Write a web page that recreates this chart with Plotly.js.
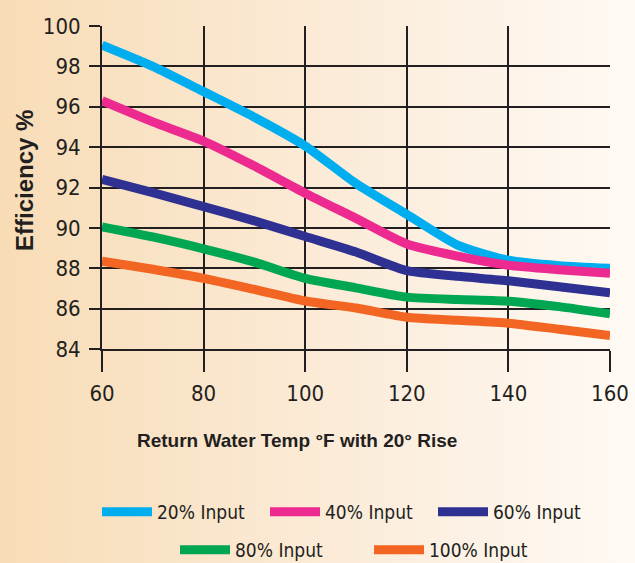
<!DOCTYPE html>
<html>
<head>
<meta charset="utf-8">
<script src="https://cdn.plot.ly/plotly-3.0.1.min.js"></script>
<style>
html,body{margin:0;padding:0;}
body{width:635px;height:563px;background:linear-gradient(to right,#f8dcb6 0%,#f9e2c3 20%,#fbe9d3 45%,#fcf1e4 72%,#fffaf4 100%);}
#chart{width:635px;height:563px;}
</style>
</head>
<body>
<div id="chart"></div>
<script>
// Return water temperature (°F)
const temps = [60, 70, 80, 90, 100, 110, 120, 130, 140, 150, 160];
// Efficiency (%) by firing input
const input20  = [99.05, 98.0, 96.75, 95.48, 94.06, 92.2, 90.67, 89.15, 88.4, 88.13, 88.0];
const input40  = [96.3, 95.25, 94.3, 93.06, 91.72, 90.47, 89.2, 88.6, 88.15, 87.93, 87.75];
const input60  = [92.4, 91.75, 91.05, 90.35, 89.57, 88.8, 87.88, 87.6, 87.38, 87.08, 86.79];
const input80  = [90.05, 89.55, 88.96, 88.3, 87.5, 87.03, 86.57, 86.45, 86.37, 86.1, 85.74];
const input100 = [88.35, 87.95, 87.5, 86.95, 86.38, 86.03, 85.57, 85.42, 85.28, 84.98, 84.67];

const seriesNames  = ['20% Input', '40% Input', '60% Input', '80% Input', '100% Input'];
const seriesValues = [input20, input40, input60, input80, input100];
const seriesColors = ['#00aeef', '#ec2a8f', '#2e3192', '#00a651', '#f26522'];
const seriesLegend = ['legend', 'legend', 'legend', 'legend2', 'legend2'];

const yTicks = [84, 86, 88, 90, 92, 94, 96, 98, 100];
const xTicks = [60, 80, 100, 120, 140, 160];

const ink = '#231f20';
const narrow = 'Liberation Sans Narrow, DejaVu Sans Condensed, sans-serif';
const bold = 'Liberation Sans, Arial, sans-serif';

const traces = seriesNames.map((n, i) => ({
  x: temps, y: seriesValues[i], name: n, type: 'scatter', mode: 'lines',
  line: {color: seriesColors[i], width: 9, shape: 'spline', smoothing: 0.6},
  legend: seriesLegend[i], hoverinfo: 'skip'
}));

const layout = {
  width: 635, height: 563,
  margin: {l: 102, r: 25, t: 26, b: 214, autoexpand: false},
  paper_bgcolor: 'rgba(0,0,0,0)',
  plot_bgcolor: 'rgba(0,0,0,0)',
  showlegend: true,
  xaxis: {
    range: [60, 160], tickvals: xTicks, ticktext: xTicks.map(String),
    showgrid: true, gridcolor: ink, gridwidth: 2,
    showline: true, linecolor: ink, linewidth: 2,
    ticks: 'outside', ticklen: 21, tickwidth: 2, tickcolor: ink,
    ticklabelstandoff: 3,
    tickfont: {family: narrow, size: 22, color: ink},
    zeroline: false, fixedrange: true, layer: 'below traces'
  },
  yaxis: {
    range: [84, 100], tickvals: yTicks, ticktext: yTicks.map(String),
    showgrid: true, gridcolor: ink, gridwidth: 2,
    showline: true, linecolor: ink, linewidth: 2,
    ticks: 'outside', ticklen: 11, tickwidth: 2, tickcolor: ink,
    ticklabelstandoff: 4,
    tickfont: {family: narrow, size: 22, color: ink},
    zeroline: false, fixedrange: true, layer: 'below traces'
  },
  shapes: [
    {type: 'line', xref: 'x', yref: 'y', x0: 160, x1: 163, y0: 84, y1: 84, line: {color: ink, width: 2}, layer: 'below'},
    {type: 'line', xref: 'x', yref: 'y', x0: 60, x1: 60, y0: 100, y1: 100.55, line: {color: ink, width: 2}, layer: 'below'}
  ],
  annotations: [
    {text: '<b>Return Water Temp °F with 20° Rise</b>', xref: 'paper', yref: 'paper',
     x: (297 - 102) / 508, y: -(440 - 349) / 323, xanchor: 'center', yanchor: 'middle',
     showarrow: false, font: {family: bold, size: 19, color: ink}},
    {text: '<b>Efficiency %</b>', xref: 'paper', yref: 'paper', textangle: -90,
     x: (24 - 102) / 508, y: 1 - (181 - 26) / 323, xanchor: 'center', yanchor: 'middle',
     showarrow: false, font: {family: bold, size: 24, color: ink}}
  ],
  legend: {
    orientation: 'h', xref: 'container', yref: 'container',
    x: 97 / 635, xanchor: 'left', y: 1 - 512 / 563, yanchor: 'middle', itemwidth: 50,
    bgcolor: 'rgba(0,0,0,0)', font: {family: narrow, size: 19, color: ink}, entrywidth: 103, itemclick: false
  },
  legend2: {
    orientation: 'h', xref: 'container', yref: 'container',
    x: 175 / 635, xanchor: 'left', y: 1 - 550 / 563, yanchor: 'middle', itemwidth: 50,
    bgcolor: 'rgba(0,0,0,0)', font: {family: narrow, size: 19, color: ink}, entrywidth: 129, itemclick: false
  }
};

Plotly.newPlot('chart', traces, layout, {staticPlot: true, displayModeBar: false});
</script>
</body>
</html>
